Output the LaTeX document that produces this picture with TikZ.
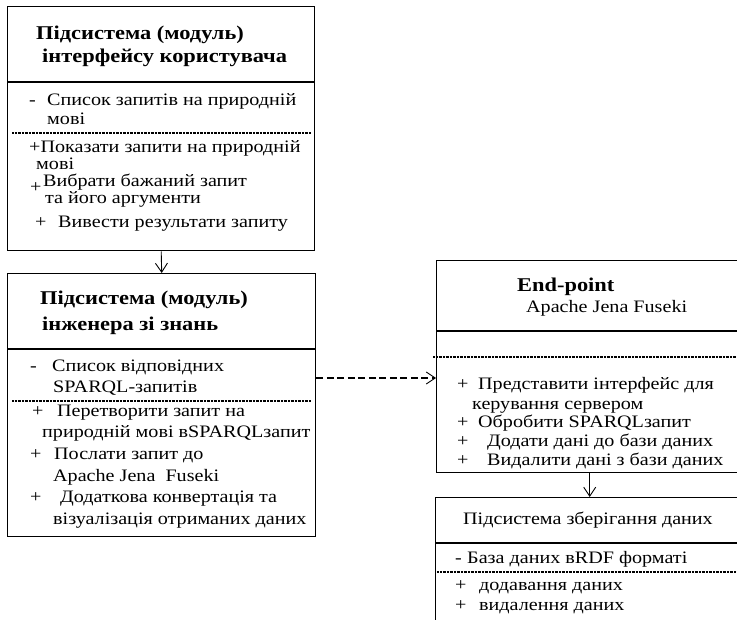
\documentclass[tikz,border=0pt]{standalone}
\usepackage{fontspec}
\setmainfont{Liberation Serif}[FakeStretch=1.15]
\usetikzlibrary{arrows.meta}
\tikzset{
  cls/.style={draw,line width=1.4pt,anchor=north west,inner sep=0pt},
  hsep/.style={line width=1.6pt},
  dsep/.style={line width=1.1pt,dash pattern=on 1pt off 0.4pt},
  txt/.style={anchor=base west,inner sep=0pt,font=\fontsize{17.5}{20}\selectfont},
  ttl/.style={anchor=base west,inner sep=0pt,font=\fontsize{19.5}{24}\selectfont\bfseries},
  link/.style={line width=0.9pt,-{Straight Barb[length=9pt,width=12pt,line width=0.9pt]}},
  dep/.style={line width=1.4pt,dash pattern=on 7pt off 3.5pt}
}
\begin{document}
\begin{tikzpicture}[x=1pt,y=1pt]
    \clip (0,0) rectangle (737,-620);
    % boxes
    \node[cls,minimum width=307,minimum height=244] (ui) at (7,-6) {};
    \node[cls,minimum width=308,minimum height=263] (ke) at (7,-273) {};
    \node[cls,minimum width=306,minimum height=212] (ep) at (436,-260) {};
    \node[cls,minimum width=308,minimum height=140] (st) at (435,-497) {};
    % compartments
    \draw[hsep] (ui.west |- 0,-82) -- (ui.east |- 0,-82);
    \draw[dsep] (12,-133) -- (311,-133);
    \draw[hsep] (ke.west |- 0,-349) -- (ke.east |- 0,-349);
    \draw[dsep] (12,-401) -- (311,-401);
    \draw[hsep] (ep.west |- 0,-331) -- (ep.east |- 0,-331);
    \draw[dsep] (433,-357) -- (737,-357);
    \draw[hsep] (st.west |- 0,-543) -- (st.east |- 0,-543);
    \draw[dsep] (437,-572) -- (737,-572);
    % user interface subsystem
    \node[ttl] (uit1) at (36,-40) {Підсистема (модуль)};
    \node[ttl] (uit2) at (42,-63) {інтерфейсу користувача};
    \node[txt] (uim) at (29,-106) {-};
    \node[txt] (uia) at (47,-106) {Список запитів на природній};
    \node[txt] (uiab) at (47,-125) {мові};
    \node[txt] (uio1) at (29,-153) {+Показати запити на природній};
    \node[txt] (uio1b) at (36,-170) {мові};
    \node[txt] (uip2) at (30,-193) {+};
    \node[txt] (uio2) at (43,-187) {Вибрати бажаний запит};
    \node[txt] (uio2b) at (45,-204) {та його аргументи};
    \node[txt] (uip3) at (35,-228) {+};
    \node[txt] (uio3) at (58,-228) {Вивести результати запиту};
    % knowledge engineer subsystem
    \node[ttl] (ket1) at (40,-305) {Підсистема (модуль)};
    \node[ttl] (ket2) at (42,-331) {інженера зі знань};
    \node[txt] (kem) at (30,-372) {-};
    \node[txt] (kea) at (52,-372) {Список відповідних};
    \node[txt] (keab) at (53,-393) {SPARQL-запитів};
    \node[txt] (kep1) at (32,-417) {+};
    \node[txt] (keo1) at (57,-417) {Перетворити запит на};
    \node[txt] (keo1b) at (42,-438) {природній мові вSPARQLзапит};
    \node[txt] (kep2) at (30,-460) {+};
    \node[txt] (keo2) at (54,-460) {Послати запит до};
    \node[txt] (keo2b) at (53,-482) {Apache Jena\ \ Fuseki};
    \node[txt] (kep3) at (30,-503) {+};
    \node[txt] (keo3) at (60,-503) {Додаткова конвертація та};
    \node[txt] (keo3b) at (53,-525) {візуалізація отриманих даних};
    % end-point
    \node[ttl] (ept) at (517,-292) {End-point};
    \node[txt] (epn) at (526,-313) {Apache Jena Fuseki};
    \node[txt] (epp1) at (457,-390) {+};
    \node[txt] (epo1) at (478,-390) {Представити інтерфейс для};
    \node[txt] (epo1b) at (472,-410) {керування сервером};
    \node[txt] (epp2) at (457,-428) {+};
    \node[txt] (epo2) at (478,-428) {Обробити SPARQLзапит};
    \node[txt] (epp3) at (457,-447) {+};
    \node[txt] (epo3) at (487,-447) {Додати дані до бази даних};
    \node[txt] (epp4) at (457,-465) {+};
    \node[txt] (epo4) at (487,-465) {Видалити дані з бази даних};
    % storage subsystem
    \node[txt] (stt) at (463,-525) {Підсистема зберігання даних};
    \node[txt] (stm) at (455,-563) {-};
    \node[txt] (sta) at (467,-563) {База даних вRDF форматі};
    \node[txt] (stp1) at (455,-590) {+};
    \node[txt] (sto1) at (479,-590) {додавання даних};
    \node[txt] (stp2) at (455,-610) {+};
    \node[txt] (sto2) at (479,-610) {видалення даних};
    % links
    \coordinate (d) at (0,-378);
    \draw[link] (ui.south) -- (ke.north);
    \draw[link,dep] (ke.east |- d) -- (ep.west |- d);
    \draw[link] (ep.south) -- (st.north);
\end{tikzpicture}
\end{document}
